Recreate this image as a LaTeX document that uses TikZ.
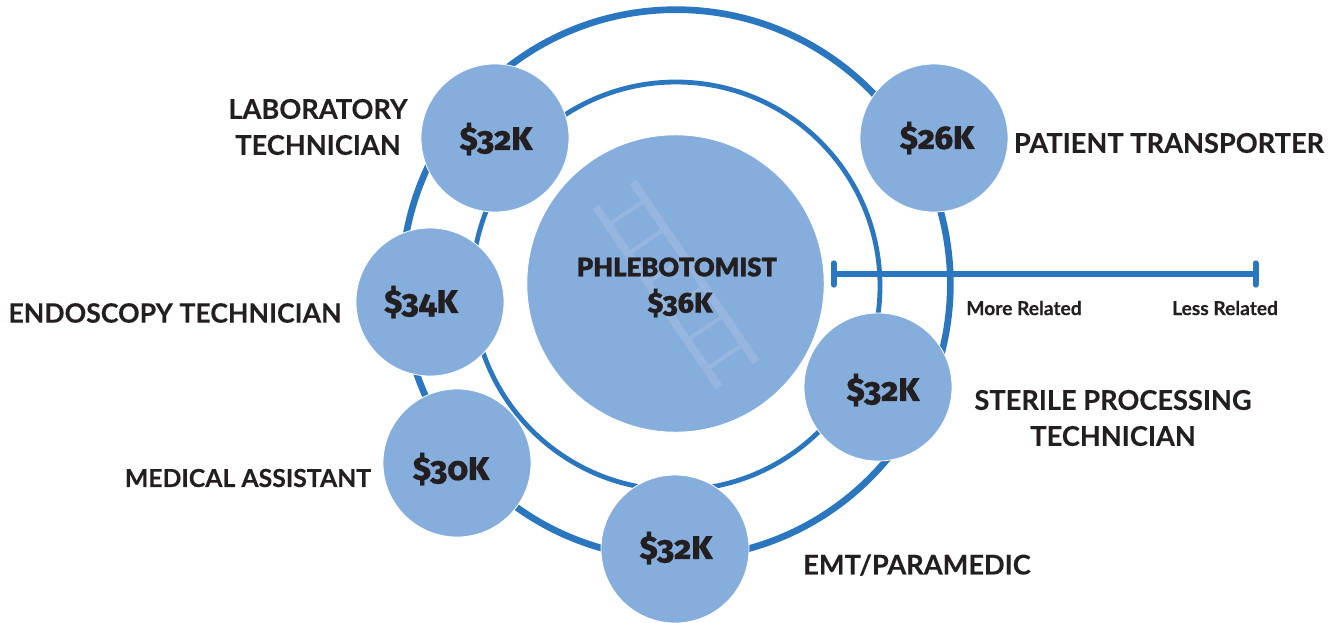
\documentclass[tikz,border=0pt]{standalone}
\usepackage{fontspec}
\usetikzlibrary{calc}
\setmainfont{Lato}
\newfontfamily\labfont{Lato}[UprightFont=* Bold,FakeBold=0.25]
\newfontfamily\headfont{Lato}[UprightFont=* Black,FakeBold=1.2]
\newfontfamily\valfont{Fira Sans}[Numbers=OldStyle,UprightFont=* ExtraBold,FakeBold=0.5]
\definecolor{ringblue}{HTML}{2B77BF}
\definecolor{discblue}{HTML}{85AEDD}
\definecolor{railblue}{HTML}{97B6DF}
\definecolor{inkdark}{HTML}{231F20}
\tikzset{
  ring/.style={circle,draw=ringblue,inner sep=0pt,minimum size=#1},
  disc/.style={circle,fill=discblue,draw=white,line width=0.6pt,inner sep=0pt,minimum size=#1},
  val/.style={font=\valfont\fontsize{24.5}{27}\selectfont,text=inkdark,inner sep=0pt},
  lab/.style={font=\labfont\fontsize{20.4}{27}\selectfont,text=inkdark,inner sep=0pt,align=center},
  small/.style={font=\labfont\fontsize{14.4}{16}\selectfont,text=inkdark,inner sep=0pt},
  rail/.style={railblue,line width=6pt},
  rung/.style={railblue,line width=3pt},
  scale line/.style={ringblue,line width=4.2pt},
  scale tick/.style={ringblue,line width=4.5pt,line cap=round}
}
\begin{document}
\begin{tikzpicture}[x=0.75pt,y=-0.75pt]
\useasboundingbox (0,0) rectangle (1333,622);
\node[ring=411.5pt,line width=5pt] (outer) at (676,284) {};
\node[ring=306pt,line width=3.6pt] (inner) at (676,286) {};
\node[disc=223pt] (centre) at (675.5,283.5) {};
% ladder
\coordinate (ra1) at (633,182); \coordinate (ra2) at (756,362);
\coordinate (rb1) at (596,207); \coordinate (rb2) at (719,387);
\draw[rail] (ra1) -- (ra2);
\draw[rail] (rb1) -- (rb2);
\foreach \t in {0.1,0.26,0.42,0.58,0.74,0.9}{
  \draw[rung] ($(ra1)!\t!(ra2)$) -- ($(rb1)!\t!(rb2)$);
}
\node[disc=111pt] (lab) at (495,138) {};
\node[disc=111pt] (pat) at (934,138) {};
\node[disc=111pt] (end) at (430,302) {};
\node[disc=111pt] (ste) at (878,387) {};
\node[disc=111pt] (med) at (457,463) {};
\node[disc=111pt] (emt) at (675,549) {};
\node[val] at (496,139) {\$32K};
\node[val] at (937,138) {\$26K};
\node[val] at (421,302) {\$34K};
\node[val] at (883,390) {\$32K};
\node[val] at (451,469) {\$30K};
\node[val] at (676,548) {\$32K};
\node[inner sep=0pt,text=inkdark,font=\headfont\fontsize{19.2}{22}\selectfont] (ph) at (677,267) {PHLEBOTOMIST};
\node[val,font=\valfont\fontsize{21.5}{27}\selectfont] (sal) at (680,303) {\$36K};
\node[lab] at (318,127) {LABORATORY\\TECHNICIAN};
\node[lab] at (1169,143) {PATIENT TRANSPORTER};
\node[lab,font=\labfont\fontsize{20}{27}\selectfont] at (175,313) {ENDOSCOPY TECHNICIAN};
\node[lab] at (1113,418) {STERILE PROCESSING\\TECHNICIAN};
\node[lab,font=\labfont\fontsize{18.6}{27}\selectfont] at (248,478) {MEDICAL ASSISTANT};
\node[lab] at (917,565) {EMT/PARAMEDIC};
\node[small] at (1024,308) {More Related};
\node[small] at (1225,308) {Less Related};
\coordinate (sa) at (833.5,274);
\coordinate (sb) at (1255.5,274);
\draw[scale line] (sa) -- (sb);
\draw[scale tick] ([yshift=-8pt]sa) -- ([yshift=8pt]sa);
\draw[scale tick] ([yshift=-8pt]sb) -- ([yshift=8pt]sb);
\end{tikzpicture}
\end{document}
